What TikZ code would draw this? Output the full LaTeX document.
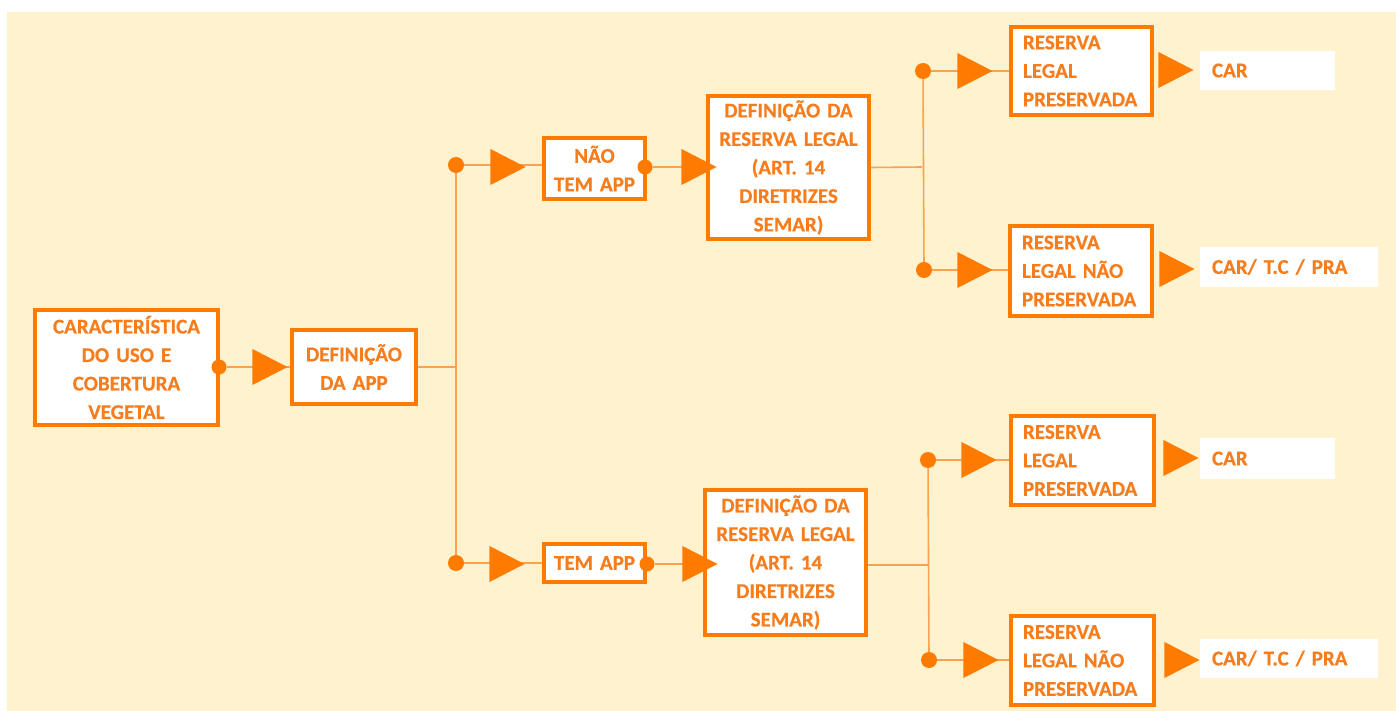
\documentclass[tikz,border=0pt]{standalone}
\usepackage{fontspec}
\setmainfont{Carlito}[WordSpace=0.8, BoldFeatures={FakeBold=0.4}]
\usetikzlibrary{shapes.geometric}
\definecolor{cream}{RGB}{255,242,206}
\definecolor{orng}{RGB}{255,123,0}
\definecolor{txtor}{RGB}{246,124,28}
\definecolor{lineor}{RGB}{250,162,82}
\tikzset{
  every node/.style={font=\fontsize{21}{28.5}\selectfont\bfseries, text=txtor},
  cbox/.style={draw=orng, line width=4pt, fill=white, inner xsep=0pt, inner ysep=0pt, align=center},
  lbox/.style={draw=orng, line width=4pt, fill=white, inner xsep=12pt, inner ysep=0pt, align=left},
  wbox/.style={fill=white, inner xsep=12pt, inner ysep=0pt, align=left},
  conn/.style={draw=lineor, line width=1.6pt},
  jdot/.style={circle, fill=orng, inner sep=0pt, minimum size=16pt},
  edot/.style={circle, fill=orng, inner sep=0pt, minimum size=15pt},
  tri/.style={isosceles triangle, isosceles triangle stretches, fill=orng, inner sep=0pt, minimum width=36pt, minimum height=35pt, anchor=apex}
}
\begin{document}
\begin{tikzpicture}[x=1pt,y=-1pt]
\fill[white] (0,0) rectangle (1396,711);
\useasboundingbox (0,0) rectangle (1396,711);
\fill[cream] (7,12) rectangle (1396,711);

% boxes
\node[cbox, minimum width=183pt, minimum height=115pt, text width=183pt] (car) at (126.5,367.5) {CARACTERÍSTICA\\DO USO E\\COBERTURA\\VEGETAL};
\node[cbox, minimum width=124pt, minimum height=74pt, text width=124pt] (dapp) at (354,367) {DEFINIÇÃO\\DA APP};
\node[cbox, minimum width=101pt, minimum height=61pt, text width=101pt] (nta) at (594.5,168.5) {NÃO\\TEM APP};
\node[cbox, minimum width=161pt, minimum height=143pt, text width=161pt] (drt) at (788.5,167.5) {DEFINIÇÃO DA\\RESERVA LEGAL\\(ART. 14\\DIRETRIZES\\SEMAR)};
\node[cbox, minimum width=101pt, minimum height=38pt, text width=101pt] (ta) at (594.5,563) {TEM APP};
\node[cbox, minimum width=161pt, minimum height=145pt, text width=161pt] (drb) at (785.5,562.5) {DEFINIÇÃO DA\\RESERVA LEGAL\\(ART. 14\\DIRETRIZES\\SEMAR)};

\node[lbox, minimum width=141pt, minimum height=88pt, text width=117pt] (rp1) at (1081.5,71) {RESERVA\\LEGAL\\PRESERVADA};
\node[lbox, minimum width=142pt, minimum height=90pt, text width=118pt] (rn1) at (1081,271) {RESERVA\\LEGAL NÃO\\PRESERVADA};
\node[lbox, minimum width=143pt, minimum height=89pt, text width=119pt] (rp2) at (1082.5,460.5) {RESERVA\\LEGAL\\PRESERVADA};
\node[lbox, minimum width=143pt, minimum height=89pt, text width=119pt] (rn2) at (1082.5,660.5) {RESERVA\\LEGAL NÃO\\PRESERVADA};

\node[wbox, minimum width=135pt, minimum height=39pt, text width=111pt] (o1) at (1267.5,70.5) {CAR};
\node[wbox, minimum width=178pt, minimum height=40pt, text width=154pt] (o2) at (1289,267) {CAR/ T.C / PRA};
\node[wbox, minimum width=135pt, minimum height=41pt, text width=111pt] (o3) at (1267.5,458.5) {CAR};
\node[wbox, minimum width=178pt, minimum height=39pt, text width=154pt] (o4) at (1289,658.5) {CAR/ T.C / PRA};

% junction points
\coordinate (j1) at (456,367);
\coordinate (j2) at (922,167);
\coordinate (j3) at (928,565);

% connectors
\draw[conn] (dapp.east) -- (j1);
\draw[conn] (456,165) coordinate (d2p) -- (456,563) coordinate (d8p);
\draw[conn] (drt.east) -- (j2);
\draw[conn] (923,71) coordinate (d4p) -- (924,270) coordinate (d6p);
\draw[conn] (drb.east |- j3) -- (j3);
\draw[conn] (928,460) coordinate (d10p) -- (929,660) coordinate (d12p);

\node[edot] (d1) at (219,367) {};
\node[jdot] (d2) at (d2p) {};
\node[edot] (d3) at (645,167) {};
\node[jdot] (d4) at (d4p) {};
\node[jdot] (d6) at (d6p) {};
\node[jdot] (d8) at (d8p) {};
\node[edot] (d9) at (647,564) {};
\node[jdot] (d10) at (d10p) {};
\node[jdot] (d12) at (d12p) {};

\draw[conn] (d1) -- (dapp.west |- d1);
\draw[conn] (d2) -- (nta.west |- d2);
\draw[conn] (d3) -- (drt.west |- d3);
\draw[conn] (d4) -- (rp1.west |- d4);
\draw[conn] (d6) -- (rn1.west |- d6);
\draw[conn] (d8) -- (ta.west |- d8);
\draw[conn] (d9) -- (drb.west |- d9);
\draw[conn] (d10) -- (rp2.west |- d10);
\draw[conn] (d12) -- (rn2.west |- d12);

% triangles
\node[tri] (t1) at (288,367) {};
\node[tri] (t2) at (526,167) {};
\node[tri] (t3) at (717,167) {};
\node[tri] (t4) at (993,71) {};
\node[tri] (t5) at (1194,70) {};
\node[tri] (t6) at (993,270) {};
\node[tri] (t7) at (1195,269) {};
\node[tri] (t8) at (525,564) {};
\node[tri] (t9) at (718,564) {};
\node[tri] (t10) at (997,460) {};
\node[tri] (t11) at (1199,458) {};
\node[tri] (t12) at (999,660) {};
\node[tri] (t13) at (1200,660) {};
\end{tikzpicture}
\end{document}
